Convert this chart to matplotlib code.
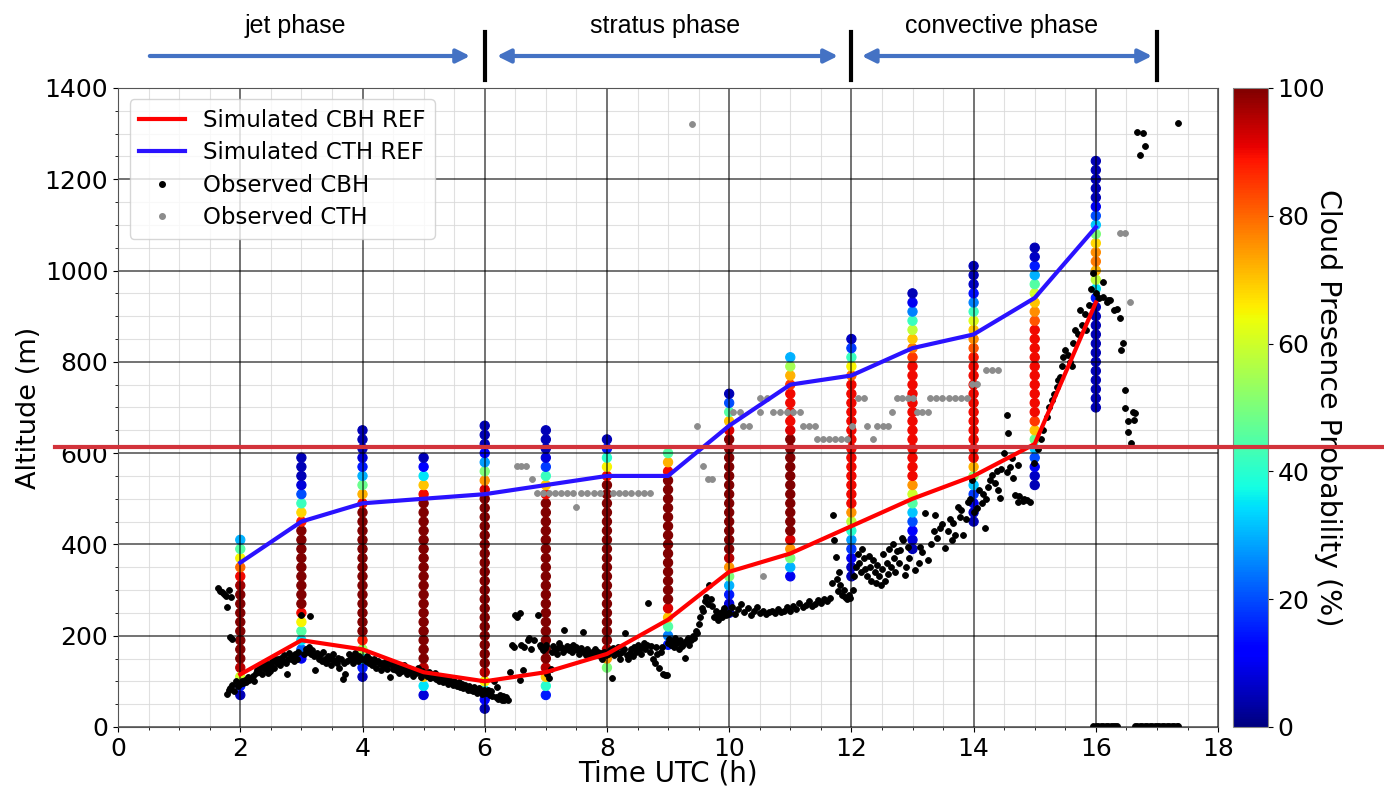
import numpy as np
import matplotlib.pyplot as plt
from matplotlib.lines import Line2D
from matplotlib.ticker import MultipleLocator
from matplotlib.transforms import blended_transform_factory

# simulated cloud base / top heights (REF run), hourly
hours = [2, 3, 4, 5, 6, 7, 8, 9, 10, 11, 12, 13, 14, 15, 16]
sim_cbh = [115, 190, 170, 120, 100, 120, 160, 235, 340, 380, 440, 500, 550, 620, 930]
sim_cth = [360, 450, 490, 500, 510, 530, 550, 550, 660, 750, 770, 830, 860, 940, 1095]

# cloud presence probability profiles: lowest level (m) + values every 20 m upward
level_step = 20
profile_base = [70, 150, 110, 70, 40, 70, 130, 180, 250, 330, 330, 390, 450, 530, 700]
profile_prob = [
    [5, 15, 60, 95, 100, 100, 100, 100, 100, 100, 100, 100, 97, 90, 80, 65, 45, 30],
    [10, 22, 35, 45, 65, 90, 100, 100, 100, 100, 100, 100, 100, 100, 100,
     88, 68, 42, 20, 8, 5, 5, 5],
    [5, 15, 35, 55, 88, 100, 100, 100, 100, 100, 100, 100, 100, 100, 100, 100, 100,
     100, 100, 90, 72, 48, 30, 15, 8, 5, 5, 5],
    [8, 35, 70, 95, 100, 100, 100, 100, 100, 100, 100, 100, 100, 100, 100, 100, 100,
     100, 100, 100, 100, 100, 90, 70, 35, 12, 5],
    [5, 12, 35, 65, 95, 100, 100, 100, 100, 100, 100, 100, 100, 100, 100, 100, 100,
     100, 100, 100, 100, 100, 100, 100, 92, 75, 50, 28, 12, 5, 5, 5],
    [15, 40, 70, 95, 100, 100, 100, 100, 100, 100, 100, 100, 100, 100, 100, 100, 100,
     100, 100, 100, 100, 100, 90, 70, 42, 18, 8, 5, 5, 5],
    [50, 75, 95, 100, 100, 100, 100, 100, 100, 100, 100, 100, 100, 100, 100, 100, 100,
     100, 100, 100, 100, 90, 65, 40, 15, 5],
    [15, 25, 45, 70, 92, 100, 100, 100, 100, 100, 100, 100, 100, 100, 100, 100, 100,
     100, 100, 90, 72, 45],
    [5, 8, 15, 30, 50, 75, 95, 100, 100, 100, 100, 100, 100, 100, 100, 100, 100, 100,
     100, 100, 92, 70, 45, 20, 5],
    [10, 30, 50, 75, 92, 100, 100, 100, 100, 100, 100, 100, 100, 100, 100, 100,
     92, 90, 90, 90, 90, 85, 72, 55, 30],
    [5, 6, 10, 18, 28, 40, 58, 75, 90, 90, 90, 90, 90, 90, 90, 90, 90, 90, 90, 90,
     90, 90, 80, 65, 42, 18, 6],
    [5, 8, 12, 20, 32, 45, 60, 75, 90, 90, 90, 90, 90, 90, 90, 90, 90, 90, 90, 90,
     90, 85, 78, 70, 58, 42, 25, 10, 5],
    [5, 6, 10, 18, 32, 52, 72, 90, 90, 90, 90, 90, 90, 90, 90, 90, 90, 90, 88, 82,
     76, 70, 62, 42, 25, 14, 6, 5, 5],
    [5, 6, 10, 20, 32, 48, 70, 85, 90, 90, 90, 90, 90, 90, 90, 90, 90, 90, 82, 76,
     70, 60, 45, 30, 15, 6, 5],
    [5, 5, 5, 5, 5, 5, 5, 5, 5, 5, 5, 5, 15, 35, 58, 72, 78, 76, 68, 50, 32, 20,
     10, 5, 5, 5, 5, 5],
]

# observed cloud base height (ceilometer): (time h, altitude m)
obs_cbh = np.array([
    (1.64, 304), (1.67, 298), (1.70, 296), (1.73, 292), (1.76, 288), (1.79, 262),
    (1.82, 300), (1.85, 285), (1.84, 198), (1.87, 192), (1.78, 72), (1.81, 80),
    (1.84, 86), (1.87, 92), (1.90, 78), (1.93, 100), (1.96, 90), (1.99, 95),
    (2.02, 100), (2.05, 96), (2.08, 104), (2.10, 98), (2.13, 110), (2.15, 102),
    (2.18, 106), (2.20, 112), (2.22, 100), (2.25, 118), (2.28, 125), (2.30, 120),
    (2.32, 130), (2.35, 115), (2.37, 135), (2.40, 128), (2.42, 140), (2.45, 132),
    (2.46, 118), (2.48, 122), (2.50, 138), (2.52, 145), (2.55, 130), (2.57, 148),
    (2.60, 140), (2.62, 150), (2.65, 135), (2.67, 152), (2.70, 145), (2.72, 158),
    (2.75, 140), (2.76, 115), (2.78, 150), (2.80, 162), (2.83, 148), (2.85, 155),
    (2.88, 145), (2.90, 160), (2.93, 150), (2.95, 165), (2.99, 245), (3.14, 243),
    (3.05, 160), (3.08, 170), (3.10, 165), (3.12, 175), (3.15, 160), (3.18, 168),
    (3.20, 155), (3.22, 125), (3.25, 162), (3.28, 150), (3.30, 158), (3.33, 145),
    (3.35, 165), (3.38, 150), (3.40, 140), (3.43, 155), (3.45, 148), (3.48, 135),
    (3.50, 150), (3.52, 160), (3.55, 145), (3.58, 140), (3.60, 152), (3.62, 130),
    (3.65, 148), (3.68, 105), (3.70, 140), (3.72, 115), (3.75, 145), (3.78, 160),
    (3.80, 150), (3.82, 155), (3.85, 140), (3.88, 162), (3.90, 150), (3.92, 145),
    (3.95, 155), (3.98, 150),
    (4.02, 150), (4.05, 145), (4.08, 155), (4.10, 140), (4.12, 148), (4.15, 135),
    (4.18, 150), (4.20, 142), (4.22, 130), (4.25, 145), (4.28, 138), (4.30, 125),
    (4.32, 140), (4.35, 132), (4.38, 145), (4.40, 128), (4.42, 138), (4.45, 110),
    (4.48, 135), (4.50, 128), (4.52, 140), (4.55, 125), (4.58, 132), (4.60, 118),
    (4.62, 130), (4.65, 122), (4.68, 135), (4.70, 125), (4.72, 115), (4.75, 130),
    (4.78, 120), (4.80, 128), (4.82, 112), (4.85, 125), (4.88, 118), (4.90, 130),
    (4.92, 120), (4.95, 110), (4.98, 122),
    (5.02, 118), (5.05, 112), (5.08, 120), (5.10, 108), (5.12, 115), (5.15, 110),
    (5.18, 118), (5.20, 105), (5.22, 112), (5.25, 100), (5.28, 110), (5.30, 105),
    (5.32, 98), (5.35, 108), (5.38, 100), (5.40, 95), (5.42, 105), (5.45, 98),
    (5.48, 92), (5.50, 100), (5.52, 95), (5.55, 90), (5.58, 98), (5.60, 88),
    (5.62, 95), (5.65, 85), (5.68, 92), (5.70, 88), (5.72, 80), (5.75, 90),
    (5.78, 82), (5.80, 78), (5.82, 88), (5.85, 80), (5.88, 75), (5.90, 85),
    (5.92, 78), (5.95, 72), (5.98, 80),
    (6.02, 75), (6.05, 80), (6.08, 70), (6.10, 78), (6.12, 68), (6.15, 100),
    (6.18, 65), (6.20, 88), (6.22, 62), (6.25, 70), (6.28, 60), (6.30, 68),
    (6.32, 58), (6.35, 65), (6.38, 60), (6.42, 120), (6.44, 180), (6.48, 175),
    (6.50, 245), (6.53, 242), (6.58, 250), (6.60, 180), (6.62, 125), (6.58, 103),
    (6.65, 175), (6.70, 190), (6.72, 195), (6.75, 170),
    (6.80, 191), (6.87, 245), (6.90, 180), (6.92, 175), (6.95, 168), (6.98, 172),
    (7.00, 180), (7.02, 115), (7.05, 108), (7.08, 128), (7.10, 165), (7.12, 178),
    (7.15, 170), (7.18, 160), (7.20, 172), (7.22, 185), (7.25, 175), (7.28, 165),
    (7.30, 212), (7.32, 170), (7.35, 178), (7.38, 168), (7.40, 175), (7.42, 165),
    (7.45, 180), (7.48, 170), (7.50, 175), (7.52, 168), (7.55, 160), (7.58, 172),
    (7.60, 208), (7.62, 165), (7.65, 158), (7.68, 170), (7.70, 162), (7.72, 155),
    (7.75, 165), (7.78, 160), (7.80, 170), (7.82, 158), (7.85, 165), (7.88, 155),
    (7.90, 162), (7.92, 150), (7.95, 165), (7.98, 158),
    (8.02, 160), (8.05, 168), (8.08, 107), (8.10, 172), (8.12, 158), (8.15, 165),
    (8.18, 175), (8.20, 160), (8.22, 150), (8.25, 165), (8.28, 170), (8.30, 205),
    (8.32, 158), (8.35, 148), (8.38, 162), (8.40, 170), (8.42, 155), (8.45, 175),
    (8.48, 165), (8.50, 180), (8.52, 168), (8.55, 160), (8.58, 175), (8.60, 185),
    (8.62, 170), (8.65, 180), (8.67, 271), (8.70, 165), (8.72, 178), (8.75, 150),
    (8.78, 140), (8.80, 175), (8.82, 160), (8.85, 130), (8.88, 165), (8.90, 175),
    (8.92, 115), (8.95, 113), (8.98, 114), (9.00, 185),
    (9.02, 192), (9.05, 180), (9.08, 188), (9.10, 175), (9.12, 195), (9.15, 185),
    (9.18, 170), (9.20, 190), (9.22, 178), (9.25, 182), (9.28, 151), (9.30, 188),
    (9.32, 195), (9.35, 180), (9.38, 190), (9.40, 200), (9.42, 195), (9.45, 210),
    (9.48, 205), (9.50, 225), (9.52, 240), (9.55, 260), (9.57, 255), (9.60, 275),
    (9.62, 285), (9.65, 270), (9.67, 311), (9.70, 280), (9.72, 265), (9.75, 240),
    (9.78, 255), (9.80, 245), (9.82, 235), (9.85, 250), (9.88, 240), (9.90, 255),
    (9.92, 260), (9.95, 245), (9.98, 250),
    (10.00, 250), (10.05, 262), (10.10, 248), (10.15, 258), (10.20, 270), (10.25, 252),
    (10.30, 260), (10.35, 245), (10.40, 255), (10.45, 262), (10.50, 250), (10.55, 255),
    (10.60, 248), (10.65, 252), (10.70, 255), (10.75, 250), (10.80, 258), (10.85, 252),
    (10.90, 255), (10.95, 262), (11.00, 255), (11.05, 265), (11.10, 258), (11.15, 272),
    (11.20, 262), (11.25, 268), (11.30, 275), (11.35, 265), (11.40, 270), (11.45, 278),
    (11.50, 272), (11.55, 280), (11.60, 275), (11.65, 282),
    (11.68, 315), (11.70, 465), (11.72, 410), (11.74, 373), (11.76, 325), (11.78, 298),
    (11.80, 340), (11.82, 310), (11.85, 290), (11.88, 300), (11.90, 285), (11.93, 280),
    (11.96, 290), (11.98, 283),
    (12.02, 300), (12.05, 330), (12.08, 350), (12.10, 380), (12.12, 360), (12.15, 340),
    (12.18, 390), (12.20, 370), (12.22, 345), (12.25, 330), (12.28, 375), (12.30, 350),
    (12.32, 320), (12.35, 365), (12.38, 340), (12.40, 315), (12.42, 355), (12.45, 330),
    (12.48, 310), (12.50, 345), (12.52, 380), (12.55, 320), (12.58, 360), (12.60, 335),
    (12.62, 390), (12.65, 350), (12.68, 400), (12.70, 370), (12.72, 340), (12.75, 385),
    (12.78, 360), (12.80, 388), (12.82, 415), (12.85, 410), (12.88, 333), (12.90, 350),
    (12.92, 395), (12.95, 370),
    (13.04, 344), (13.10, 360), (13.12, 395), (13.15, 384), (13.20, 469), (13.26, 366),
    (13.30, 400), (13.35, 430), (13.37, 464), (13.40, 415), (13.45, 436), (13.48, 445),
    (13.53, 392), (13.58, 430), (13.62, 455), (13.64, 410), (13.67, 447), (13.70, 420),
    (13.75, 482), (13.78, 460), (13.80, 475), (13.83, 420), (13.87, 455), (13.91, 493),
    (13.94, 500), (13.97, 541), (14.00, 470), (14.05, 480), (14.08, 520), (14.13, 490),
    (14.15, 510), (14.19, 436), (14.20, 500), (14.24, 526), (14.27, 540), (14.30, 552),
    (14.35, 535), (14.38, 560), (14.40, 520), (14.43, 502), (14.45, 565), (14.49, 600),
    (14.54, 559), (14.54, 684), (14.57, 644), (14.60, 570), (14.62, 590), (14.65, 545),
    (14.68, 508), (14.72, 575), (14.73, 493), (14.75, 505), (14.80, 495), (14.83, 500),
    (14.87, 497), (14.92, 492),
    (14.98, 578), (15.05, 610), (15.10, 630), (15.14, 650), (15.20, 680), (15.24, 700),
    (15.28, 716), (15.32, 730), (15.36, 745), (15.38, 760), (15.41, 767), (15.44, 790),
    (15.47, 811), (15.50, 825), (15.55, 815), (15.58, 800), (15.61, 790), (15.63, 841),
    (15.66, 870), (15.70, 860), (15.74, 913), (15.78, 880), (15.82, 905), (15.84, 870),
    (15.88, 925), (15.92, 960), (15.96, 994), (16.00, 950), (16.05, 940), (16.12, 975),
    (16.12, 943), (16.18, 930), (16.20, 935), (16.23, 936), (16.29, 913), (16.34, 915),
    (16.40, 896), (16.41, 825), (16.45, 841), (16.48, 738), (16.48, 699), (16.52, 671),
    (16.53, 646), (16.57, 622), (16.60, 690), (16.63, 672), (16.64, 688),
    (16.67, 1304), (16.72, 1253), (16.77, 1301), (16.80, 1273), (17.35, 1323),
    (15.96, 2), (16.00, 2), (16.04, 2), (16.08, 2), (16.12, 2), (16.16, 2),
    (16.20, 2), (16.24, 2), (16.28, 2), (16.32, 2), (16.35, 2),
    (16.64, 2), (16.68, 2), (16.72, 2), (16.76, 2), (16.80, 2), (16.84, 2),
    (16.88, 2), (16.92, 2), (16.96, 2), (17.00, 2), (17.04, 2), (17.08, 2),
    (17.12, 2), (17.16, 2), (17.20, 2), (17.24, 2), (17.28, 2), (17.32, 2), (17.35, 2),
])

# observed cloud top height
obs_cth = np.array([
    (6.52, 572), (6.60, 572), (6.68, 572), (6.77, 543),
    (6.85, 512), (6.95, 512), (7.05, 512), (7.15, 512), (7.25, 512), (7.35, 512),
    (7.45, 512), (7.49, 483), (7.58, 512), (7.68, 512), (7.78, 512), (7.88, 512),
    (8.10, 512), (8.20, 512), (8.30, 512), (8.40, 512), (8.50, 512), (8.60, 512),
    (8.70, 512), (9.39, 1321),
    (9.47, 660), (9.57, 572), (9.65, 543), (9.72, 543),
    (10.07, 691), (10.18, 691), (10.23, 660), (10.33, 660), (10.51, 691),
    (10.55, 331), (10.51, 720), (10.62, 720), (10.72, 691), (10.83, 691),
    (10.94, 691), (11.05, 691), (11.16, 691), (11.20, 660), (11.30, 660),
    (11.40, 660), (11.43, 631), (11.53, 631), (11.63, 631), (11.73, 631),
    (11.83, 631), (11.92, 631), (12.01, 660), (12.11, 720), (12.20, 720),
    (12.26, 660), (12.35, 631), (12.42, 660), (12.51, 660), (12.60, 660),
    (12.67, 691), (12.74, 720), (12.83, 720), (12.92, 720), (13.01, 720),
    (13.07, 691), (13.16, 691), (13.26, 691), (13.29, 720), (13.39, 720),
    (13.49, 720), (13.59, 720), (13.69, 720), (13.79, 720), (13.89, 720),
    (13.97, 751), (14.05, 751), (14.20, 782), (14.30, 782), (14.40, 782),
    (16.40, 1082), (16.48, 1082), (16.56, 932),
])

phase_names = ['jet phase', 'stratus phase', 'convective phase']
phase_limits = [6, 12, 17]

fig = plt.figure(figsize=(13.84, 7.86), dpi=100)
ax = fig.add_axes([0.0853, 0.0751, 0.7948, 0.8130])
cax = fig.add_axes([0.891, 0.0751, 0.025, 0.8130])

cmap = plt.get_cmap('jet')
px, py, pc = [], [], []
for h, base, probs in zip(hours, profile_base, profile_prob):
    for i, p in enumerate(probs):
        px.append(h)
        py.append(base + i * level_step)
        pc.append(p)
sc = ax.scatter(px, py, c=pc, cmap=cmap, vmin=0, vmax=100, s=44,
                edgecolors='face', linewidths=0.8, zorder=1)

ax.scatter(obs_cbh[:, 0], obs_cbh[:, 1], s=18, color='black',
           edgecolors='face', linewidths=0.6, zorder=2, label='Observed CBH')
ax.scatter(obs_cth[:, 0], obs_cth[:, 1], s=18, color='#8c8c8c',
           edgecolors='face', linewidths=0.6, zorder=2, label='Observed CTH')
ax.plot(hours, sim_cbh, color='red', lw=3, zorder=4, label='Simulated CBH REF')
ax.plot(hours, sim_cth, color='#2a12ff', lw=3, zorder=4, label='Simulated CTH REF')

ax.set_xlim(0, 18)
ax.set_ylim(0, 1400)
ax.xaxis.set_major_locator(MultipleLocator(2))
ax.xaxis.set_minor_locator(MultipleLocator(0.5))
ax.yaxis.set_major_locator(MultipleLocator(200))
ax.yaxis.set_minor_locator(MultipleLocator(50))
# light minor grid stays behind the data, major grid is drawn over the profiles
ax.set_axisbelow(True)
ax.grid(which='minor', color='#d9d9d9', lw=0.8, alpha=0.8)
for xt in ax.get_xticks()[1:-1]:
    ax.axvline(xt, color='black', lw=1.1, alpha=0.7, zorder=1.5)
for yt in ax.get_yticks()[1:-1]:
    ax.axhline(yt, color='black', lw=1.1, alpha=0.7, zorder=1.5)
ax.tick_params(labelsize=18)
for s in ax.spines.values():
    s.set_color('#555555')
ax.set_xlabel('Time UTC (h)', fontsize=20, labelpad=-1)
ax.set_ylabel('Altitude (m)', fontsize=19.5, labelpad=2)

handles = [
    Line2D([], [], color='red', lw=3),
    Line2D([], [], color='#2a12ff', lw=3),
    Line2D([], [], ls='none', marker='o', ms=4, color='black'),
    Line2D([], [], ls='none', marker='o', ms=4, color='#8c8c8c'),
]
labels = ['Simulated CBH REF', 'Simulated CTH REF', 'Observed CBH', 'Observed CTH']
leg = ax.legend(handles, labels, loc='upper left', fontsize=16.5, framealpha=0.8,
                borderaxespad=0.5, handlelength=2.0, labelspacing=0.42)
leg.set_zorder(5)

cb = fig.colorbar(sc, cax=cax)
cb.set_ticks([0, 20, 40, 60, 80, 100])
cb.ax.tick_params(labelsize=18)
cb.outline.set_edgecolor('#888888')
cb.set_label('Cloud Presence Probability (%)', fontsize=20.5, rotation=270,
             labelpad=12)

# phase annotations above the plot
trans = blended_transform_factory(ax.transData, ax.transAxes)
arrow_kw = dict(color='#4472c4', lw=3, shrinkA=0, shrinkB=0, mutation_scale=20)
ax.annotate('', xy=(5.76, 1.05), xytext=(0.52, 1.05), xycoords=trans,
            textcoords=trans, arrowprops=dict(arrowstyle='-|>', **arrow_kw))
ax.annotate('', xy=(11.78, 1.05), xytext=(6.2, 1.05), xycoords=trans,
            textcoords=trans, arrowprops=dict(arrowstyle='<|-|>', **arrow_kw))
ax.annotate('', xy=(16.92, 1.05), xytext=(12.17, 1.05), xycoords=trans,
            textcoords=trans, arrowprops=dict(arrowstyle='<|-|>', **arrow_kw))
for xl in phase_limits:
    ax.plot([xl, xl], [1.0125, 1.0876], color='black', lw=3, transform=trans,
            clip_on=False, zorder=6)
phase_centers = [2.9, 8.95, 14.45]
for name, xc in zip(phase_names, phase_centers):
    ax.text(xc, 1.097, name, transform=trans, ha='center', va='center',
            fontsize=18, family='Liberation Sans')

# reference level across the whole figure
fig.add_artist(Line2D([0.04, 1.0], [0.4313, 0.4313], transform=fig.transFigure,
                      color='#d2333b', lw=3, zorder=10))

fig.savefig('out.png', dpi=100)
